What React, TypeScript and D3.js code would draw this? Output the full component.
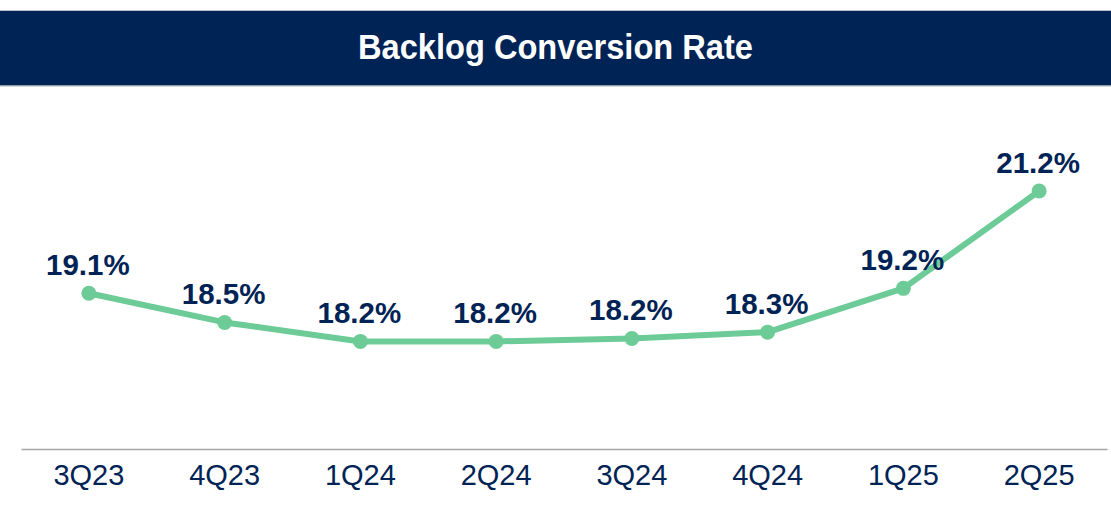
import { useEffect, useRef } from 'react';
import * as d3 from 'd3';

const quarters = ['3Q23', '4Q23', '1Q24', '2Q24', '3Q24', '4Q24', '1Q25', '2Q25'];
const rates = [19.1, 18.5, 18.11, 18.11, 18.17, 18.3, 19.2, 21.2];
const rateLabels = ['19.1%', '18.5%', '18.2%', '18.2%', '18.2%', '18.3%', '19.2%', '21.2%'];

const W = 1111;
const H = 511;
const NAVY = '#002355';
const GREEN = '#6ccb97';
const FONT = "'Liberation Sans', Arial, sans-serif";

export default function App() {
  const svgRef = useRef<SVGSVGElement>(null);

  useEffect(() => {
    if (!svgRef.current) return;
    const svg = d3.select(svgRef.current);
    svg.selectAll('*').remove();

    svg.append('rect').attr('width', W).attr('height', H).attr('fill', '#fff');

    // Title banner
    svg.append('rect')
      .attr('x', 0).attr('y', 10).attr('width', W).attr('height', 76)
      .attr('fill', NAVY);
    svg.append('line').attr('x1', 0).attr('x2', W).attr('y1', 10.5).attr('y2', 10.5)
      .attr('stroke', '#b8bcc4').attr('stroke-width', 1);
    svg.append('line').attr('x1', 0).attr('x2', W).attr('y1', 86).attr('y2', 86)
      .attr('stroke', '#c4c7cc').attr('stroke-width', 1.5);
    svg.append('text')
      .attr('x', W / 2).attr('y', 59)
      .attr('text-anchor', 'middle')
      .attr('fill', '#fff')
      .attr('font-family', FONT)
      .attr('font-weight', 'bold')
      .attr('font-size', 35)
      .attr('textLength', 395)
      .attr('lengthAdjust', 'spacingAndGlyphs')
      .text('Backlog Conversion Rate');

    const x = d3.scaleBand<string>().domain(quarters).range([21, 1107]);
    const y = d3.scaleLinear().domain([15.9, 21.2]).range([449, 191]);
    const cx = (q: string) => (x(q) ?? 0) + x.bandwidth() / 2;

    // X axis
    const axis = svg.append('g')
      .attr('transform', 'translate(0,449)')
      .call(d3.axisBottom(x).tickSize(0).tickPadding(36));
    axis.select('.domain').attr('stroke', '#a6a6a6').attr('stroke-width', 1.5);
    axis.selectAll('text')
      .attr('fill', NAVY)
      .attr('font-family', FONT)
      .attr('font-size', 29)
      .attr('dy', 0);

    const pts = quarters.map((q, i) => ({ q, v: rates[i], label: rateLabels[i] }));

    const line = d3.line<{ q: string; v: number }>()
      .x(d => cx(d.q))
      .y(d => y(d.v));

    svg.append('path')
      .datum(pts)
      .attr('d', line)
      .attr('fill', 'none')
      .attr('stroke', GREEN)
      .attr('stroke-width', 6)
      .attr('stroke-linejoin', 'round');

    svg.selectAll('.pt')
      .data(pts)
      .enter()
      .append('circle')
      .attr('class', 'pt')
      .attr('cx', d => cx(d.q))
      .attr('cy', d => y(d.v))
      .attr('r', 7.5)
      .attr('fill', GREEN);

    svg.selectAll('.lbl')
      .data(pts)
      .enter()
      .append('text')
      .attr('class', 'lbl')
      .attr('x', d => cx(d.q) - 1)
      .attr('y', d => y(d.v) - 18)
      .attr('text-anchor', 'middle')
      .attr('fill', NAVY)
      .attr('font-family', FONT)
      .attr('font-weight', 'bold')
      .attr('font-size', 29.5)
      .text(d => d.label);
  }, []);

  return (
    <svg
      ref={svgRef}
      width={W}
      height={H}
      style={{ position: 'absolute', left: 0, top: 0, display: 'block' }}
    />
  );
}
